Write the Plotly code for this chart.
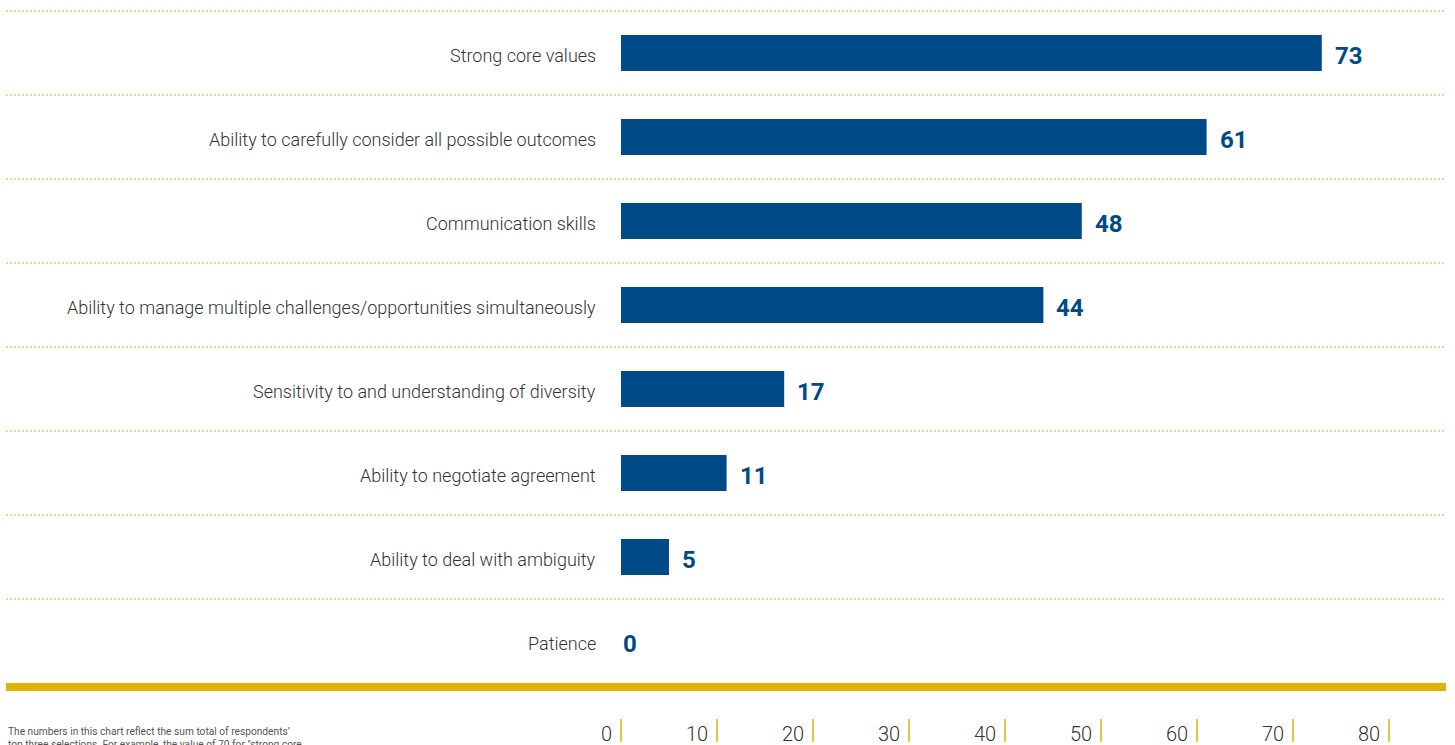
import plotly.graph_objects as go

# Survey results: leadership qualities (sum of top-three selections)
categories = [
    "Strong core values",
    "Ability to carefully consider all possible outcomes",
    "Communication skills",
    "Ability to manage multiple challenges/opportunities simultaneously",
    "Sensitivity to and understanding of diversity",
    "Ability to negotiate agreement",
    "Ability to deal with ambiguity",
    "Patience",
]
values = [73, 61, 48, 44, 17, 11, 5, 0]
tick_values = [0, 10, 20, 30, 40, 50, 60, 70, 80]
tick_labels = ["0", "10", "20", "30", "40", "50", "60", "70", "80"]
footnote = ("The numbers in this chart reflect the sum total of respondents’<br>"
            "top three selections. For example, the value of 70 for \"strong core")

BLUE = "#004B87"
GOLD = "#DFB408"
DOT = "#EBCB5A"
TEXT = "#333333"
FONT = "Roboto"

fig = go.Figure()
fig.add_trace(go.Bar(
    x=values,
    y=categories,
    orientation="h",
    width=0.43,
    marker=dict(color=BLUE, line=dict(width=0)),
    hoverinfo="skip",
))

annotations = []
# category labels to the left of the zero line
for cat in categories:
    annotations.append(dict(
        x=0, y=cat, xref="x", yref="y", xanchor="right", yanchor="middle",
        xshift=-23, yshift=-2, text=cat, showarrow=False,
        font=dict(family=FONT, size=18, color=TEXT, weight=300),
    ))
# value labels at bar ends
for cat, v in zip(categories, values):
    annotations.append(dict(
        x=v, y=cat, xref="x", yref="y", xanchor="left", yanchor="middle",
        xshift=11 if v > 0 else 0, yshift=-3, text=str(v), showarrow=False,
        font=dict(family=FONT, size=24, color=BLUE, weight="bold"),
    ))
# scale labels below the gold base line
for tv, tl in zip(tick_values, tick_labels):
    annotations.append(dict(
        x=tv, y=0, xref="x", yref="paper", xanchor="right", yanchor="middle",
        xshift=-7, yshift=-51, text=tl, showarrow=False,
        font=dict(family=FONT, size=20, color=TEXT, weight=300),
    ))
annotations.append(dict(
    x=0, y=0, xref="paper", yref="paper", xanchor="left", yanchor="top",
    yshift=-41, text=footnote, showarrow=False, align="left",
    font=dict(family=FONT, size=10.2, color="#555555"),
))

dot_line = dict(color=DOT, width=1.5, dash="2px,2px")
shapes = [
    # top rule above the first row
    dict(type="line", xref="paper", yref="paper", x0=0, x1=1, y0=1, y1=1,
         line=dot_line, layer="below"),
]
# dotted separators between rows
for i in range(1, len(categories)):
    shapes.append(dict(
        type="line", xref="paper", yref="y", x0=0, x1=1, y0=i - 0.5, y1=i - 0.5,
        line=dot_line, layer="below",
    ))
# scale tick marks
for tv in tick_values:
    shapes.append(dict(
        type="line", xref="x", yref="paper", ysizemode="pixel", yanchor=0,
        x0=tv, x1=tv, y0=-36, y1=-59,
        line=dict(color=GOLD, width=1.5),
    ))

fig.update_layout(
    width=1455, height=745,
    margin=dict(l=6, r=9, t=11, b=62),
    paper_bgcolor="white", plot_bgcolor="white",
    showlegend=False,
    xaxis=dict(
        range=[-64.06, 85.94], showgrid=False, zeroline=False,
        showticklabels=False, ticks="",
        showline=True, linecolor=GOLD, linewidth=8,
    ),
    yaxis=dict(
        categoryorder="array", categoryarray=categories,
        range=[len(categories) - 0.5, -0.5],
        showgrid=False, zeroline=False, showticklabels=False, ticks="",
        showline=False,
    ),
    annotations=annotations,
    shapes=shapes,
)

fig.write_html("out.html")
